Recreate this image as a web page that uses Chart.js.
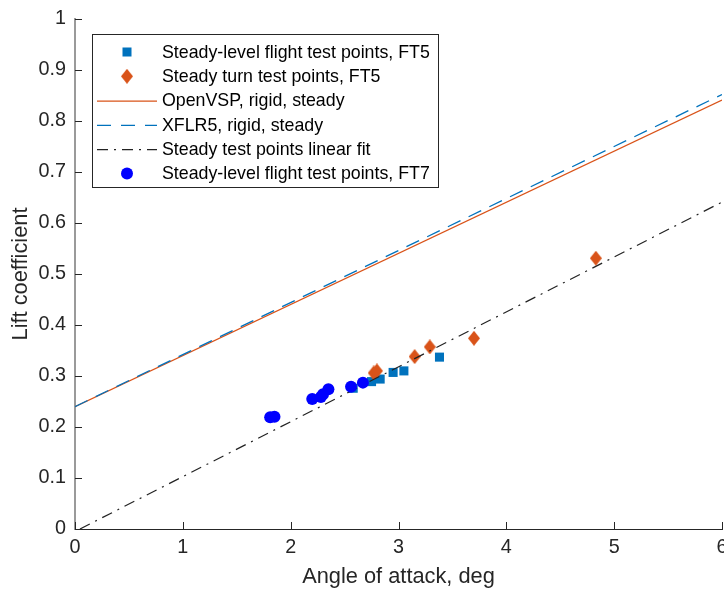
<!DOCTYPE html>
<html>
<head>
<meta charset="utf-8">
<title>Lift coefficient vs angle of attack</title>
<script src="https://cdn.jsdelivr.net/npm/chart.js@4.4.1/dist/chart.umd.min.js"></script>
<style>
  html, body { margin: 0; padding: 0; background: #fff; overflow: hidden; }
  /* the last x label sits on the window edge and gets cut, like the figure export */
  #wrap { width: 724px; height: 592px; overflow: hidden; }
</style>
</head>
<body>
<div id="wrap"><canvas id="clChart" width="730" height="592"></canvas></div>
<script>
// Flight test data, FT5 steady-level
const ft5LevelAlpha = [2.58, 2.75, 2.83, 2.95, 3.05, 3.38];
const ft5LevelCL    = [0.276, 0.289, 0.294, 0.307, 0.310, 0.337];

// FT5 steady turns
const ft5TurnAlpha = [2.77, 2.80, 3.15, 3.29, 3.70, 4.83];
const ft5TurnCL    = [0.306, 0.310, 0.338, 0.357, 0.374, 0.531];

// FT7 steady-level
const ft7LevelAlpha = [1.81, 1.85, 2.20, 2.28, 2.30, 2.35, 2.56, 2.67];
const ft7LevelCL    = [0.219, 0.220, 0.255, 0.259, 0.264, 0.274, 0.279, 0.287];

// Rigid steady predictions (end points of straight lines)
const modelAlpha = [0, 6];
const openVspCL  = [0.24, 0.841];
const xflr5CL    = [0.24, 0.852];

// Linear fit through the steady test points
const fitAlpha = [0.046, 6];
const fitCL    = [0, 0.641];

const xTicks = [0, 1, 2, 3, 4, 5, 6];
const yTicks = [0, 0.1, 0.2, 0.3, 0.4, 0.5, 0.6, 0.7, 0.8, 0.9, 1];

const FONT = '"Liberation Sans", Arial, Helvetica, sans-serif';
const AX = '#262626';
const C_BLUE = '#0072BD';
const C_ORANGE = '#D95319';
const C_FT7 = '#0000FF';

const pts = (xs, ys) => xs.map((x, i) => ({ x, y: ys[i] }));

function diamondImage(w, h, color) {
  const c = document.createElement('canvas');
  c.width = w; c.height = h;
  const g = c.getContext('2d');
  g.fillStyle = color;
  g.beginPath();
  g.moveTo(w / 2, 0); g.lineTo(w, h / 2); g.lineTo(w / 2, h); g.lineTo(0, h / 2);
  g.closePath();
  g.fill();
  return c;
}
const diamond = diamondImage(12, 15, C_ORANGE);

// ticks pointing into the axes area, MATLAB style
const innerTicks = {
  id: 'innerTicks',
  afterDatasetsDraw(chart) {
    const { ctx, chartArea: a, scales: { x, y } } = chart;
    ctx.save();
    ctx.strokeStyle = AX;
    ctx.lineWidth = 1;
    ctx.beginPath();
    xTicks.forEach(v => {
      const px = Math.round(x.getPixelForValue(v)) + 0.5;
      ctx.moveTo(px, a.bottom); ctx.lineTo(px, a.bottom - 7);
    });
    yTicks.forEach(v => {
      const py = Math.round(y.getPixelForValue(v)) + 0.5;
      ctx.moveTo(a.left, py); ctx.lineTo(a.left + 7, py);
    });
    ctx.stroke();
    ctx.restore();
  }
};

const legendRows = [
  { label: 'Steady-level flight test points, FT5', kind: 'square' },
  { label: 'Steady turn test points, FT5', kind: 'diamond' },
  { label: 'OpenVSP, rigid, steady', kind: 'line', color: C_ORANGE, dash: [] },
  { label: 'XFLR5, rigid, steady', kind: 'line', color: C_BLUE, dash: [14, 10] },
  { label: 'Steady test points linear fit', kind: 'line', color: '#222', dash: [11, 6, 2, 6] },
  { label: 'Steady-level flight test points, FT7', kind: 'circle' }
];

const boxLegend = {
  id: 'boxLegend',
  afterDraw(chart) {
    const ctx = chart.ctx;
    const bx = 92, by = 34, bw = 346, bh = 153;
    ctx.save();
    ctx.fillStyle = '#fff';
    ctx.fillRect(bx, by, bw, bh);
    ctx.strokeStyle = AX;
    ctx.lineWidth = 1;
    ctx.strokeRect(bx + 0.5, by + 0.5, bw, bh);
    ctx.font = '17.8px ' + FONT;
    ctx.textBaseline = 'middle';
    legendRows.forEach((r, i) => {
      const cy = by + 18 + i * 24.3;
      const cx = 127;
      if (r.kind === 'square') {
        ctx.fillStyle = C_BLUE;
        ctx.fillRect(cx - 4.5, cy - 4.5, 9, 9);
      } else if (r.kind === 'diamond') {
        ctx.drawImage(diamond, cx - 6, cy - 7.5);
      } else if (r.kind === 'circle') {
        ctx.fillStyle = C_FT7;
        ctx.beginPath(); ctx.arc(cx, cy, 6, 0, Math.PI * 2); ctx.fill();
      } else {
        ctx.strokeStyle = r.color;
        ctx.lineWidth = 1.3;
        ctx.setLineDash(r.dash);
        ctx.beginPath(); ctx.moveTo(97, cy + 0.5); ctx.lineTo(157, cy + 0.5); ctx.stroke();
        ctx.setLineDash([]);
      }
      ctx.fillStyle = '#000';
      ctx.fillText(r.label, 162, cy + 1);
    });
    ctx.restore();
  }
};

new Chart(document.getElementById('clChart'), {
  type: 'scatter',
  data: {
    datasets: [
      {
        label: 'Steady-level flight test points, FT5',
        data: pts(ft5LevelAlpha, ft5LevelCL),
        pointStyle: 'rect', pointRadius: 6.4, backgroundColor: C_BLUE, borderWidth: 0,
        order: 6
      },
      {
        label: 'Steady turn test points, FT5',
        data: pts(ft5TurnAlpha, ft5TurnCL),
        pointStyle: diamond, pointRadius: 7,
        order: 5
      },
      {
        label: 'OpenVSP, rigid, steady',
        data: pts(modelAlpha, openVspCL),
        showLine: true, borderColor: C_ORANGE, borderWidth: 1.3, pointRadius: 0,
        order: 4
      },
      {
        label: 'XFLR5, rigid, steady',
        data: pts(modelAlpha, xflr5CL),
        showLine: true, borderColor: C_BLUE, borderWidth: 1.3, borderDash: [14, 9], pointRadius: 0,
        order: 3
      },
      {
        label: 'Steady test points linear fit',
        data: pts(fitAlpha, fitCL),
        showLine: true, borderColor: '#222', borderWidth: 1.2, borderDash: [11, 6, 2, 6], pointRadius: 0,
        order: 2
      },
      {
        label: 'Steady-level flight test points, FT7',
        data: pts(ft7LevelAlpha, ft7LevelCL),
        pointStyle: 'circle', pointRadius: 6, backgroundColor: C_FT7, borderWidth: 0,
        order: 1
      }
    ]
  },
  options: {
    responsive: false,
    animation: false,
    events: [],
    layout: { padding: { top: 19, right: 2, bottom: 0, left: 0 } },
    plugins: { legend: { display: false }, tooltip: { enabled: false } },
    scales: {
      x: {
        type: 'linear', min: 0, max: 6,
        afterBuildTicks: s => { s.ticks = xTicks.map(v => ({ value: v })); },
        afterFit: s => { s.height = 63; s.paddingLeft = 0; s.paddingRight = 0; },
        grid: { display: false, drawTicks: false },
        border: { display: true, color: AX, width: 1 },
        ticks: { color: AX, padding: 7, maxRotation: 0, font: { family: FONT, size: 19.8 } },
        title: {
          display: true, text: 'Angle of attack, deg', color: AX,
          font: { family: FONT, size: 21.8 }, padding: { top: 0, bottom: 2 }
        }
      },
      y: {
        type: 'linear', min: 0, max: 1,
        afterBuildTicks: s => { s.ticks = yTicks.map(v => ({ value: v })); },
        afterFit: s => { s.width = 75; s.paddingTop = 0; s.paddingBottom = 0; },
        grid: { display: false, drawTicks: false },
        border: { display: true, color: '#9a9a9a', width: 2 },
        ticks: {
          color: AX, padding: 9, font: { family: FONT, size: 19.8 },
          callback: v => String(+v.toFixed(1))
        },
        title: {
          display: true, text: 'Lift coefficient', color: AX,
          font: { family: FONT, size: 21.8 }, padding: { top: 8, bottom: 0 }
        }
      }
    }
  },
  plugins: [innerTicks, boxLegend]
});
</script>
</body>
</html>
